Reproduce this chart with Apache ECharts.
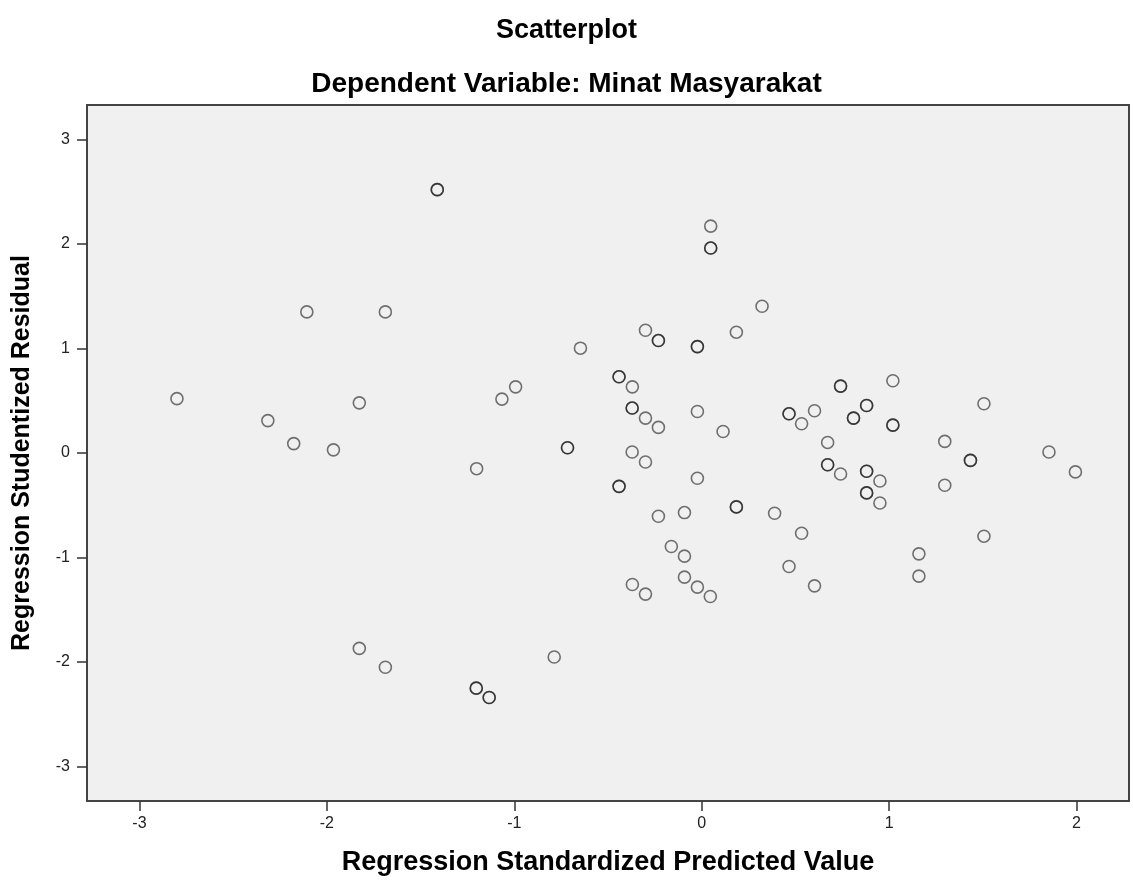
<!DOCTYPE html>
<html>
<head>
<meta charset="utf-8">
<title>Scatterplot</title>
<script src="https://cdn.jsdelivr.net/npm/echarts@6/dist/echarts.min.js"></script>
<style>
  html, body { margin: 0; padding: 0; background: #fff; }
  #chart { width: 1133px; height: 885px; }
</style>
</head>
<body>
<div id="chart"></div>
<script>
// Regression Standardized Predicted Value (x) — duplicated entries are overlapping cases
const predicted = [
  -2.80, -2.315, -2.177, -2.107, -1.965, -1.827, -1.827, -1.688, -1.688,
  -1.411, -1.411, -1.201, -1.203, -1.203, -1.134, -1.134, -1.066, -0.993,
  -0.787, -0.716, -0.716, -0.647, -0.441, -0.441, -0.441, -0.441, -0.370,
  -0.371, -0.371, -0.371, -0.370, -0.300, -0.300, -0.300, -0.300, -0.231,
  -0.231, -0.231, -0.231, -0.162, -0.092, -0.092, -0.092, -0.023, -0.023,
  -0.023, -0.023, -0.023, 0.048, 0.048, 0.048, 0.046, 0.114, 0.185,
  0.185, 0.185, 0.322, 0.389, 0.466, 0.466, 0.466, 0.533, 0.533,
  0.602, 0.602, 0.672, 0.672, 0.672, 0.741, 0.741, 0.741, 0.810,
  0.810, 0.880, 0.880, 0.880, 0.880, 0.880, 0.880, 0.951, 0.951,
  1.020, 1.020, 1.020, 1.159, 1.159, 1.297, 1.297, 1.434, 1.434,
  1.506, 1.506, 1.853, 1.994
]

// Regression Studentized Residual (y)
const residual = [
  0.52, 0.31, 0.09, 1.35, 0.03, 0.48, -1.87, 1.35, -2.05,
  2.52, 2.52, -0.15, -2.25, -2.25, -2.34, -2.34, 0.516, 0.633,
  -1.952, 0.05, 0.05, 1.003, 0.729, 0.729, -0.319, -0.319, 0.633,
  0.430, 0.430, 0.010, -1.258, 1.175, 0.334, -0.086, -1.350, 1.076,
  1.076, 0.245, -0.605, -0.895, -0.570, -0.987, -1.188, 1.018, 1.018,
  0.397, -0.242, -1.283, 2.171, 1.961, 1.961, -1.373, 0.206, 1.156,
  -0.516, -0.516, 1.404, -0.577, 0.375, 0.375, -1.086, 0.280, -0.768,
  0.404, -1.271, 0.101, -0.112, -0.112, 0.640, 0.640, -0.201, 0.334,
  0.334, 0.455, 0.455, -0.175, -0.175, -0.382, -0.382, -0.268, -0.478,
  0.691, 0.267, 0.267, -0.965, -1.178, 0.111, -0.309, -0.071, -0.071,
  0.471, -0.796, 0.01, -0.181
]

const xTicks = [-3, -2, -1, 0, 1, 2]
const yTicks = [-3, -2, -1, 0, 1, 2, 3]

const FONT = '"Liberation Sans", Arial, sans-serif'

const chart = echarts.init(document.getElementById('chart'))

const points = predicted.map((x, i) => [x, residual[i]])

const option = {
  animation: false,
  backgroundColor: '#ffffff',
  title: [
    {
      text: 'Scatterplot',
      left: 'center',
      top: 12,
      textStyle: { fontFamily: FONT, fontSize: 27, fontWeight: 'bold', color: '#000' }
    },
    {
      text: 'Dependent Variable: Minat Masyarakat',
      left: 'center',
      top: 65,
      textStyle: { fontFamily: FONT, fontSize: 28, fontWeight: 'bold', color: '#000' }
    }
  ],
  grid: {
    left: 87,
    right: 4,
    top: 105,
    bottom: 84,
    show: true,
    backgroundColor: '#f0f0f0',
    borderColor: '#444',
    borderWidth: 2
  },
  xAxis: {
    type: 'value',
    min: -3.28,
    max: 2.28,
    name: 'Regression Standardized Predicted Value',
    nameLocation: 'middle',
    nameGap: 48,
    nameTextStyle: { fontFamily: FONT, fontSize: 27, fontWeight: 'bold', color: '#000' },
    axisLine: { show: true, onZero: false, lineStyle: { color: '#444', width: 2 } },
    axisTick: {
      show: true,
      length: 10,
      customValues: xTicks,
      lineStyle: { color: '#333', width: 1.5 }
    },
    axisLabel: {
      customValues: xTicks,
      margin: 15,
      fontFamily: FONT,
      fontSize: 16,
      color: '#222'
    },
    splitLine: { show: false }
  },
  yAxis: {
    type: 'value',
    min: -3.33,
    max: 3.33,
    name: 'Regression Studentized Residual',
    nameLocation: 'middle',
    nameGap: 52,
    nameTextStyle: { fontFamily: FONT, fontSize: 25, fontWeight: 'bold', color: '#000' },
    axisLine: { show: true, onZero: false, lineStyle: { color: '#444', width: 2 } },
    axisTick: {
      show: true,
      length: 10,
      customValues: yTicks,
      lineStyle: { color: '#333', width: 1.5 }
    },
    axisLabel: {
      customValues: yTicks,
      margin: 17,
      fontFamily: FONT,
      fontSize: 16,
      color: '#222'
    },
    splitLine: { show: false }
  },
  series: [
    {
      type: 'scatter',
      data: points,
      symbol: 'circle',
      symbolSize: 12,
      itemStyle: {
        color: 'rgba(0,0,0,0)',
        borderColor: 'rgba(10,10,10,0.7)',
        borderWidth: 1.6
      }
    }
  ]
}

chart.setOption(option)

window.addEventListener('resize', () => chart.resize())
</script>
</body>
</html>
